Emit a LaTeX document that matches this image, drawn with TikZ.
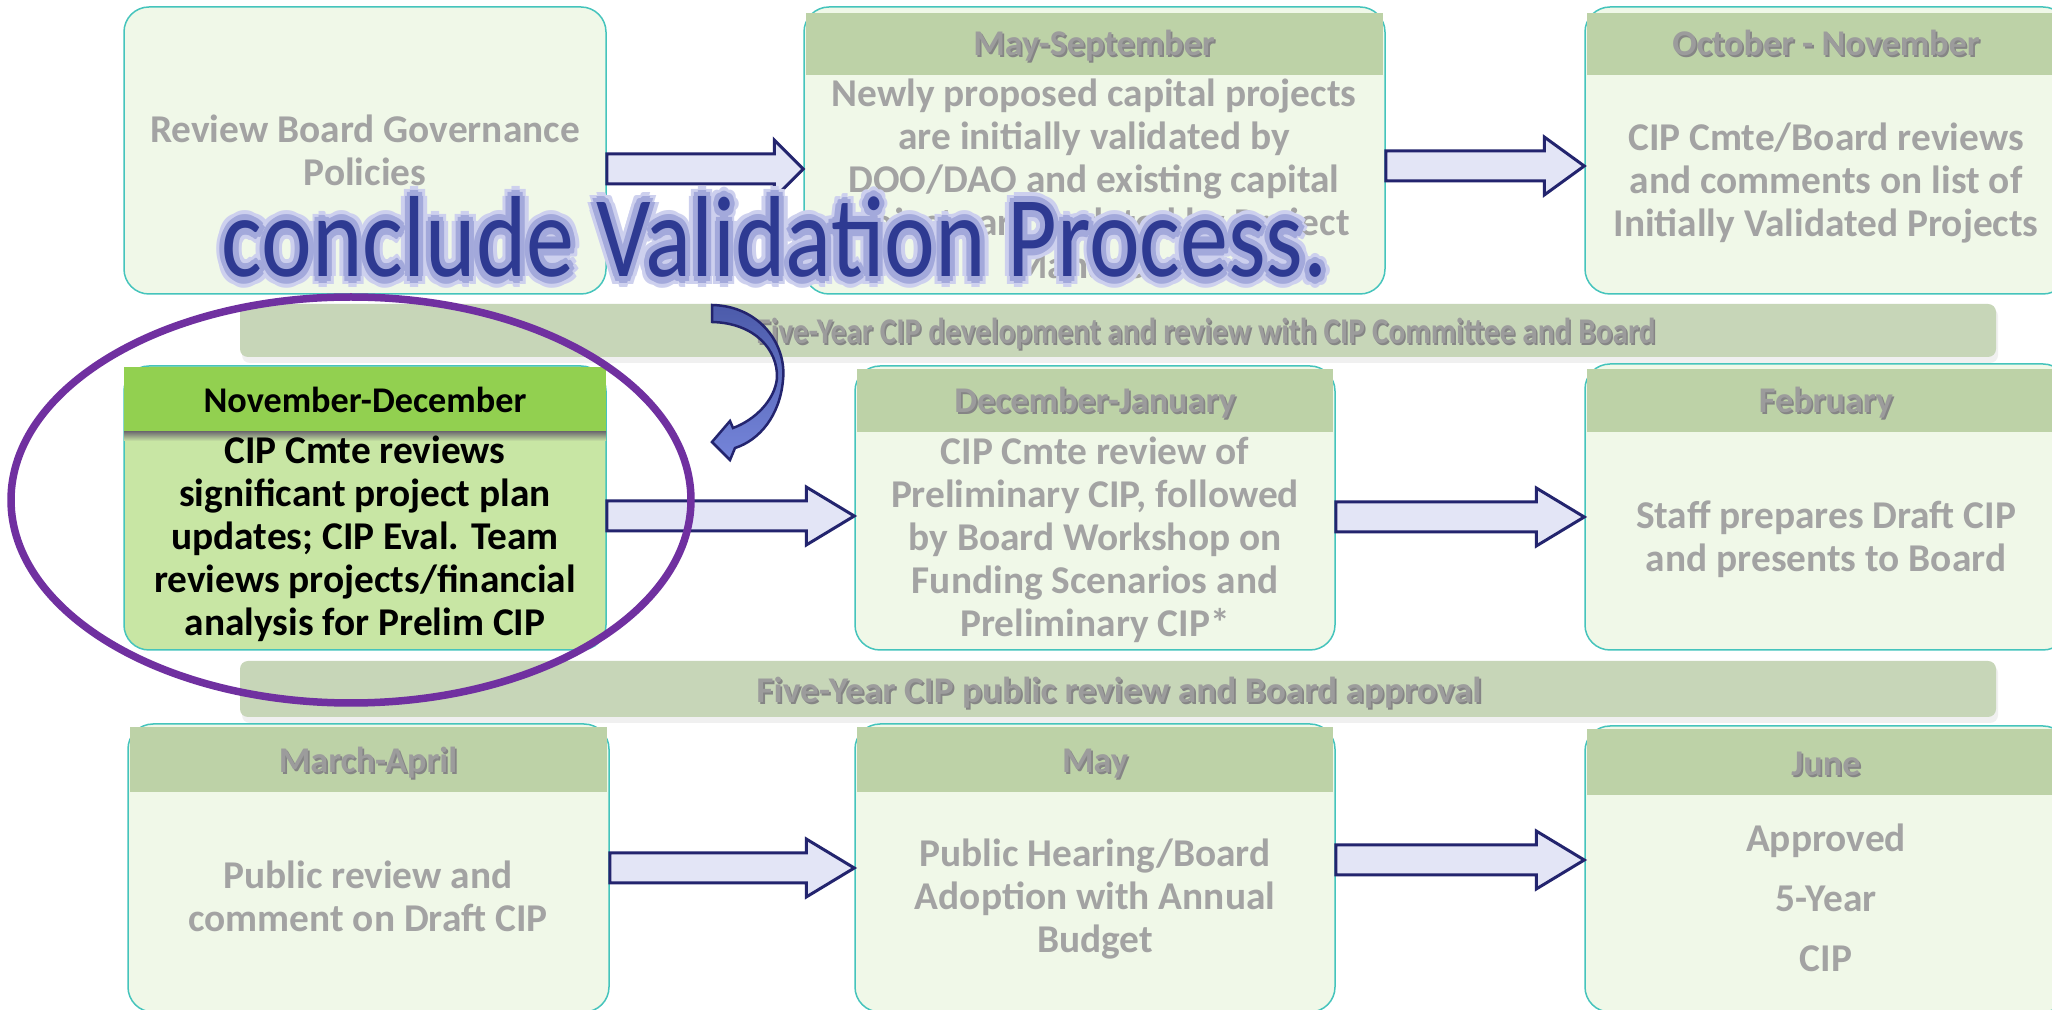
\documentclass[tikz,border=0pt]{standalone}
\usepackage{fontspec}
\setmainfont{Carlito}
\usetikzlibrary{fit,calc,shapes.geometric}
\definecolor{boxfill}{HTML}{F0F8E8}
\definecolor{boxline}{HTML}{45C4BC}
\definecolor{hdrfill}{HTML}{BDD2A7}
\definecolor{bandfill}{HTML}{C7D6B8}
\definecolor{txtgray}{HTML}{A3A3A3}
\definecolor{hdrgray}{HTML}{9C9C9C}
\definecolor{shgray}{HTML}{858585}
\definecolor{arrfill}{HTML}{E3E5F6}
\definecolor{arrline}{HTML}{23246E}
\definecolor{hlhdr}{HTML}{92D050}
\definecolor{hlbody}{HTML}{C8E6A4}
\definecolor{ovalc}{HTML}{7030A0}
\definecolor{bigblue}{HTML}{2E3A92}
\definecolor{glowa}{HTML}{A3A9DB}
\definecolor{glowb}{HTML}{CDD0EE}
\definecolor{curvtop}{HTML}{4C5BAA}
\definecolor{curvbot}{HTML}{7585DA}
\newcommand\offtxt[4]{\makebox[0pt][l]{\hspace*{#1}\raisebox{#2}{\textcolor{#3}{#4}}}}
\newcommand\shd[1]{\offtxt{0.5pt}{-0.7pt}{shgray}{#1}#1}
\newcommand\glowtxt[1]{%
 \offtxt{-2.6pt}{0pt}{glowb}{#1}\offtxt{2.6pt}{0pt}{glowb}{#1}\offtxt{0pt}{2.6pt}{glowb}{#1}\offtxt{0pt}{-2.6pt}{glowb}{#1}%
 \offtxt{-1.9pt}{-1.9pt}{glowb}{#1}\offtxt{1.9pt}{1.9pt}{glowb}{#1}\offtxt{-1.9pt}{1.9pt}{glowb}{#1}\offtxt{1.9pt}{-1.9pt}{glowb}{#1}%
 \offtxt{-1.5pt}{0pt}{glowa}{#1}\offtxt{1.5pt}{0pt}{glowa}{#1}\offtxt{0pt}{1.5pt}{glowa}{#1}\offtxt{0pt}{-1.5pt}{glowa}{#1}%
 \offtxt{-1.05pt}{-1.05pt}{glowa}{#1}\offtxt{1.05pt}{1.05pt}{glowa}{#1}\offtxt{-1.05pt}{1.05pt}{glowa}{#1}\offtxt{1.05pt}{-1.05pt}{glowa}{#1}%
 \textcolor{bigblue}{#1}}
\newcommand\blockarrow[5]{%
 \coordinate (#5s) at (#1.east |- 0,#3);
 \coordinate (#5t) at (#2.west |- 0,#3);
 \draw[barrow] ($(#5s)+(0,-15)$) -- ($(#5t)+(-#4,-15)$) -- ($(#5t)+(-#4,-29)$) -- (#5t)
   -- ($(#5t)+(-#4,29)$) -- ($(#5t)+(-#4,15)$) -- ($(#5s)+(0,15)$) -- cycle;}
\tikzset{
 box/.style={draw=boxline, line width=0.15mm, fill=boxfill, rounded corners=2.5mm, inner sep=0pt},
 hlbox/.style={box, fill=hlbody},
 hdr/.style={fill=hdrfill, inner sep=0pt},
 hlhdrs/.style={fill=hlhdr, inner sep=0pt},
 body/.style={align=center, text=txtgray, font=\bfseries\fontsize{11.2}{12.2}\selectfont, inner sep=0pt},
 hdrtext/.style={text=hdrgray, font=\bfseries\fontsize{10.3}{12}\selectfont, inner sep=0pt, text height=7pt, text depth=0pt},
 band/.style={fill=bandfill, rounded corners=0.8mm, inner sep=0pt},
 bandtext/.style={text=hdrgray, font=\bfseries\fontsize{10.3}{12}\selectfont, inner sep=0pt, text height=7pt, text depth=0pt},
 barrow/.style={draw=arrline, fill=arrfill, line width=0.3mm, line join=miter},
}
\begin{document}
\begin{tikzpicture}[x=0.1mm,y=-0.1mm]
\useasboundingbox (0,0) rectangle (2052,1010);
\fill[white] (0,0) rectangle (2052,1010);
\clip (0,0) rectangle (2052,1010);
% bands
\fill[black!6, rounded corners=0.8mm] (242,308) rectangle (1998,363);
\node[band, fit={(240,304) (1996,357)}] (band1) {};
\node[bandtext] (band1t) at (1206,331) {\resizebox{89.9mm}{\height}{\shd{Five-Year CIP development and review with CIP Committee and Board}}};
\fill[black!6, rounded corners=0.8mm] (242,665) rectangle (1998,723);
\node[band, fit={(240,661) (1996,717)}] (band2) {};
\node[bandtext] (band2t) at (1119,690) {\resizebox{72.5mm}{\height}{\shd{Five-Year CIP public review and Board approval}}};
% boxes
\node[box, fit={(124,7) (606,294)}] (A) {};
\node[box, fit={(804,7) (1385,294)}] (B) {};
\node[box, fit={(1585,7) (2068,294)}] (C) {};
\node[hlbox, fit={(124,366) (606,650)}] (D) {};
\node[box, fit={(855,366) (1335,650)}] (E) {};
\node[box, fit={(1585,364) (2068,650)}] (F) {};
\node[box, fit={(128,724) (609,1012)}] (G) {};
\node[box, fit={(855,724) (1335,1012)}] (H) {};
\node[box, fit={(1585,726) (2068,1012)}] (I) {};
% headers
\node[hdr, fit={(806,13) (1383,75)}] (Bh) {};
\node[hdr, fit={(1587,13) (2066,75)}] (Ch) {};
\node[hlhdrs, fit={(124,367) (606,432)}] (Dh) {};
\shade[top color=black!55, bottom color=hlbody] (124,432) rectangle (606,441);
\node[hdr, fit={(857,369) (1333,432)}] (Eh) {};
\node[hdr, fit={(1587,369) (2066,432)}] (Fh) {};
\node[hdr, fit={(130,727) (607,792)}] (Gh) {};
\node[hdr, fit={(857,727) (1333,792)}] (Hh) {};
\node[hdr, fit={(1587,729) (2066,795)}] (Ih) {};
\node[hdrtext] (Bht) at (1094,43) {\shd{May-September}};
\node[hdrtext] (Cht) at (1826,43) {\shd{October - November}};
\node[hdrtext, text=black] (Dht) at (365,400) {November-December};
\node[hdrtext] (Eht) at (1095,400) {\shd{December-January}};
\node[hdrtext] (Fht) at (1826,400) {\shd{February}};
\node[hdrtext] (Ght) at (368,760) {\shd{March-April}};
\node[hdrtext] (Hht) at (1095,760) {\shd{May}};
\node[hdrtext] (Iht) at (1826,763) {\shd{June}};
% body texts
\node[body] (At) at (365,150) {Review Board Governance\\Policies};
\node[body] (Bt) at (1094,182) {Newly proposed capital projects\\are initially validated by\\DOO/DAO and existing capital\\projects are updated by Project\\Managers};
\node[body] (Ct) at (1826,183) {CIP Cmte/Board reviews\\and comments on list of\\Initially Validated Projects};
\node[body, text=black] (Dt) at (365,539) {CIP Cmte reviews\\significant project plan\\updates; CIP Eval. Team\\reviews projects/financial\\analysis for Prelim CIP};
\node[body] (Et) at (1095,540) {CIP Cmte review of\\Preliminary CIP, followed\\by Board Workshop on\\Funding Scenarios and\\Preliminary CIP*};
\node[body] (Ft) at (1826,539) {Staff prepares Draft CIP\\and presents to Board};
\node[body] (Gt) at (368,896) {Public review and\\comment on Draft CIP};
\node[body] (Ht) at (1095,899) {Public Hearing/Board\\Adoption with Annual\\Budget};
\node[body, font=\bfseries\fontsize{11.2}{17}\selectfont] (It) at (1826,898) {Approved\\5-Year\\CIP};
% block arrows
\blockarrow{A}{B}{169}{29}{ab}
\blockarrow{B}{C}{166}{40}{bc}
\blockarrow{D}{E}{516}{48}{de}
\blockarrow{E}{F}{517}{48}{ef}
\blockarrow{G}{H}{868}{48}{gh}
\blockarrow{H}{I}{860}{48}{hi}
% curved arrow
\shade[top color=curvtop, bottom color=curvbot, draw=arrline, line width=0.25mm, line join=miter]
 (712,305) .. controls (760,306) and (787,345) .. (783,380)
 .. controls (780,415) and (760,440) .. (735,448)
 -- (730,460) -- (712,442) -- (730,421) -- (733,428)
 .. controls (755,420) and (775,400) .. (777,378)
 .. controls (778,350) and (755,323) .. (712,322) -- cycle;
% oval
\node[draw=ovalc, line width=0.75mm, ellipse, minimum width=68mm, minimum height=40.6mm, inner sep=0pt] (oval) at (351,500) {};
% big text
\node[anchor=base, inner sep=0pt] (big) at (775,277) {\scalebox{1}[1.2]{\resizebox{110.6mm}{!}{\fontsize{28}{30}\selectfont\glowtxt{conclude Validation Process.}}}};
\end{tikzpicture}
\end{document}
